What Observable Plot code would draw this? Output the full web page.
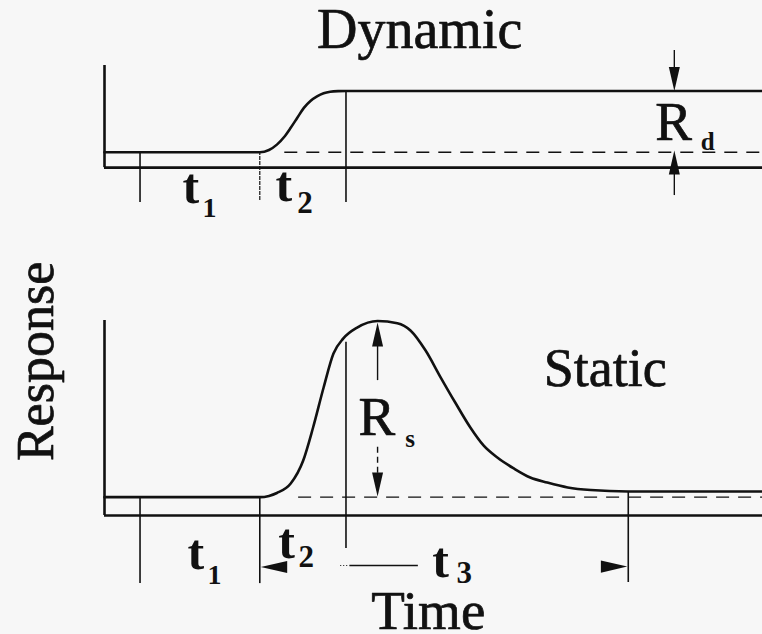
<!DOCTYPE html>
<html>
<head>
<meta charset="utf-8">
<script src="https://cdn.jsdelivr.net/npm/d3@7"></script>
<script src="https://cdn.jsdelivr.net/npm/@observablehq/plot@0.6"></script>
<style>
  html, body { margin: 0; padding: 0; background: #f7f7f7; }
  #chart svg { display: block; }
</style>
</head>
<body>
<div id="chart"></div>
<script>
// ---- Data (time in arbitrary units 0..100, response in arbitrary units) ----
const panels = ["Dynamic", "Static"];

// Dynamic response: step-like rise from baseline to plateau
const dynamicTime     = [0, 23.6, 25.0, 26.2, 27.3, 28.3, 29.3, 30.3, 31.3, 32.3, 33.3, 34.3, 35.5, 36.7, 100];
const dynamicResponse = [1, 1,    1.15, 1.5,  2.0,  2.6,  3.25, 3.9,  4.35, 4.65, 4.85, 4.95, 4.99, 5,    5];

// Static response: pulse rising to a peak and decaying back
const staticTime     = [0,   23.6, 25.0, 26.2, 28.3, 30.2, 31.7, 33.3, 34.8,  36.3,  38.4,  41.5,  44.5,  46.5,  48.8,  51.1, 53.3, 55.6, 57.6, 59.7, 62.2, 64.7, 67.3, 70.4, 73.9, 79.6, 100];
const staticResponse = [1.2, 1.2,  1.28, 1.47, 2.09, 3.59, 5.74, 8.35, 10.57, 11.55, 12.26, 12.69, 12.54, 12.07, 10.76, 9.0,  7.37, 5.74, 4.57, 3.78, 3.07, 2.48, 2.15, 1.83, 1.66, 1.57, 1.57];

// Interval boundaries (time)
const exposureStart = 5.4;   // start of t1
const riseStart     = 23.6;  // end of t1 / start of t2
const riseEnd       = 36.7;  // end of t2
const recoveryEnd   = 79.6;  // end of t3

// Baselines and amplitudes
const dynamicBase = 1, dynamicTop = 5;
const staticBase = 1.2, staticPeak = 12.69, staticTail = 1.57;
const dynamicArrowTime = 86.6;   // R_d marker
const staticArrowTime  = 41.5;   // R_s marker

// Labels
const intervalNames = ["1", "2", "3"];
const axisTitles = {x: "Time", y: "Response"};

// ---- Helpers ----
const X = {domain: [0, 100], axis: null};
const serif = "Liberation Serif, Times New Roman, serif";
const headSymbol = {
  draw(ctx, size) {
    const r = Math.sqrt(size / Math.PI);
    const L = 2.4 * r, W = 0.55 * r;
    ctx.moveTo(0, 0); ctx.lineTo(W, L); ctx.lineTo(-W, L); ctx.closePath();
  }
};
const thick = 2.6;

function label(x, y, text, opts = {}) {
  return Plot.text([text], {x: () => x, y: () => y, text: d => d, fontFamily: serif,
    lineAnchor: "bottom", textAnchor: "start", fill: "#111", ...opts});
}
const heavy = {stroke: "#111", strokeWidth: 0.7};

// ---- Top panel: Dynamic ----
const dyn = dynamicTime.map((t, i) => ({t, r: dynamicResponse[i]}));
const topPlot = Plot.plot({
  width: 762, height: 230,
  marginLeft: 104, marginRight: 0, marginTop: 0, marginBottom: 0,
  x: X,
  y: {domain: [-4.1, 10.9], axis: null},
  style: {background: "#f7f7f7", color: "#111"},
  marks: [
    Plot.ruleY([0], {x1: 0, x2: 100, strokeWidth: thick, stroke: "#111"}),
    Plot.ruleX([0], {y1: 0, y2: 6.66, strokeWidth: thick, stroke: "#111"}),
    Plot.ruleY([dynamicBase], {x1: 27.4, x2: 100, strokeWidth: 1.4, strokeDasharray: "13,9", stroke: "#111"}),
    Plot.ruleX([exposureStart], {y1: -2.28, y2: dynamicBase, strokeWidth: 1.6, stroke: "#111"}),
    Plot.ruleX([riseStart], {y1: -2.15, y2: dynamicBase, strokeWidth: 1.2, strokeDasharray: "4,1", stroke: "#111"}),
    Plot.ruleX([riseEnd], {y1: -2.28, y2: dynamicTop, strokeWidth: 1.6, stroke: "#111"}),
    Plot.line(dyn, {x: "t", y: "r", curve: "monotone-x", strokeWidth: thick, stroke: "#111"}),
    // R_d markers
    Plot.ruleX([dynamicArrowTime], {y1: 7.64, y2: dynamicTop + 1, strokeWidth: 1.4, stroke: "#111"}),
    Plot.dot([0], {x: () => dynamicArrowTime, y: () => dynamicTop, symbol: headSymbol, r: 10, rotate: 180, fill: "#111", stroke: null}),
    Plot.ruleX([dynamicArrowTime], {y1: -1.82, y2: dynamicBase - 1, strokeWidth: 1.4, stroke: "#111"}),
    Plot.dot([0], {x: () => dynamicArrowTime, y: () => 1.12, symbol: headSymbol, r: 10, rotate: 0, fill: "#111", stroke: null}),
    label(83.7, 1.83, "R", {fontSize: 55, ...heavy}),
    label(90.6, 1.12, "d", {fontSize: 25, fontWeight: "bold"}),
    // title
    label(47.9, 7.77, panels[0], {fontSize: 56, textAnchor: "middle", ...heavy}),
    // interval labels
    label(11.85, -2.28, "t", {fontSize: 50, fontWeight: "bold"}),
    label(14.9, -3.25, intervalNames[0], {fontSize: 28, fontWeight: "bold"}),
    label(26.0, -2.15, "t", {fontSize: 50, fontWeight: "bold"}),
    label(29.3, -2.93, intervalNames[1], {fontSize: 31, fontWeight: "bold"})
  ]
});

// ---- Bottom panel: Static ----
const sta = staticTime.map((t, i) => ({t, r: staticResponse[i]}));
const bottomPlot = Plot.plot({
  width: 762, height: 404,
  marginLeft: 104, marginRight: 0, marginTop: 0, marginBottom: 0,
  x: X,
  y: {domain: [-7.76, 18.59], axis: null},
  style: {background: "#f7f7f7", color: "#111"},
  marks: [
    Plot.ruleY([0], {x1: 0, x2: 100, strokeWidth: thick, stroke: "#111"}),
    Plot.ruleX([0], {y1: 0, y2: 12.72, strokeWidth: thick, stroke: "#111"}),
    Plot.ruleY([staticBase], {x1: 29.5, x2: 100, strokeWidth: 1.4, strokeDasharray: "13,9", stroke: "#111"}),
    Plot.ruleX([exposureStart], {y1: -4.44, y2: staticBase, strokeWidth: 1.6, stroke: "#111"}),
    Plot.ruleX([riseStart], {y1: -4.44, y2: staticBase, strokeWidth: 1.6, stroke: "#111"}),
    Plot.ruleX([riseEnd], {y1: -2.15, y2: 11.3, strokeWidth: 1.6, stroke: "#111"}),
    Plot.ruleX([recoveryEnd], {y1: -4.37, y2: staticTail, strokeWidth: 1.6, stroke: "#111"}),
    Plot.line(sta, {x: "t", y: "r", curve: "monotone-x", strokeWidth: thick, stroke: "#111"}),
    // R_s markers
    Plot.ruleX([staticArrowTime], {y1: 8.8, y2: 11.5, strokeWidth: 1.4, stroke: "#111"}),
    Plot.dot([0], {x: () => staticArrowTime, y: () => 12.59, symbol: headSymbol, r: 10, rotate: 0, fill: "#111", stroke: null}),
    Plot.ruleX([staticArrowTime], {y1: 4.46, y2: 2.5, strokeWidth: 1.4, strokeDasharray: "6,4", stroke: "#111"}),
    Plot.dot([0], {x: () => staticArrowTime, y: () => 1.24, symbol: headSymbol, r: 10, rotate: 180, fill: "#111", stroke: null}),
    label(38.6, 5.28, "R", {fontSize: 55, ...heavy}),
    label(45.7, 4.44, "s", {fontSize: 25, fontWeight: "bold"}),
    // title
    label(76.1, 8.48, panels[1], {fontSize: 54, textAnchor: "middle", ...heavy}),
    // t2 / t3 arrows
    Plot.dot([0], {x: () => 23.75, y: () => -3.36, symbol: headSymbol, r: 11, rotate: -90, fill: "#111", stroke: null}),
    Plot.ruleY([-3.26], {x1: 35.9, x2: 37.3, strokeWidth: 1, strokeDasharray: "1,2", stroke: "#111"}),
    Plot.ruleY([-3.26], {x1: 37.3, x2: 47.7, strokeWidth: 1.6, stroke: "#111"}),
    Plot.dot([0], {x: () => 79.45, y: () => -3.33, symbol: headSymbol, r: 11, rotate: 90, fill: "#111", stroke: null}),
    // interval labels
    label(12.6, -3.46, "t", {fontSize: 50, fontWeight: "bold"}),
    label(15.65, -4.44, intervalNames[0], {fontSize: 28, fontWeight: "bold"}),
    label(26.4, -2.74, "t", {fontSize: 50, fontWeight: "bold"}),
    label(29.5, -3.39, intervalNames[1], {fontSize: 31, fontWeight: "bold"}),
    label(49.8, -4.04, "t", {fontSize: 50, fontWeight: "bold"}),
    label(53.5, -4.37, intervalNames[2], {fontSize: 31, fontWeight: "bold"}),
    // axis titles
    label(49.2, -7.4, axisTitles.x, {fontSize: 55, textAnchor: "middle", ...heavy}),
    label(-7.9, 10.05, axisTitles.y, {fontSize: 52, textAnchor: "middle", rotate: -90, ...heavy})
  ]
});

const chart = document.getElementById("chart");
chart.appendChild(topPlot);
chart.appendChild(bottomPlot);
</script>
</body>
</html>
